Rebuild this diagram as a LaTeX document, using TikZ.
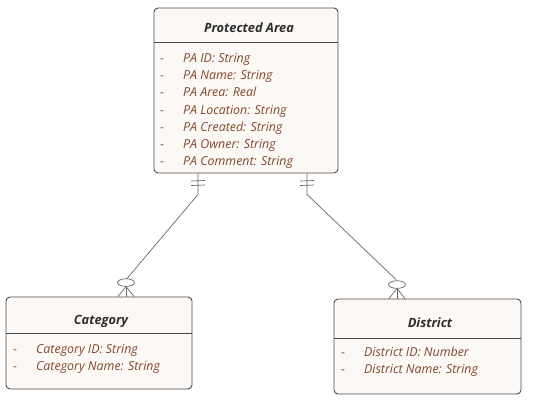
\documentclass[tikz,border=0pt]{standalone}
\usepackage{fontspec}
\setmainfont{Open Sans}
\usetikzlibrary{calc}
\definecolor{boxfill}{HTML}{FCF8F5}
\definecolor{boxline}{HTML}{4A4A4A}
\definecolor{attr}{HTML}{83462A}
\definecolor{ttl}{HTML}{2E2E2E}
\definecolor{conn}{HTML}{666666}
\tikzset{
  entity/.style={draw=boxline, fill=boxfill, line width=0.9pt, rounded corners=4pt, inner sep=0pt},
  title/.style={font=\fontsize{12.8}{15}\selectfont\bfseries\itshape, text=ttl, inner sep=0pt, anchor=base},
  attrtext/.style={font=\fontsize{12.4}{14}\selectfont\itshape, text=attr, anchor=base west, inner sep=0pt},
  dashtext/.style={font=\fontsize{12}{14}\selectfont, text=attr, anchor=base west, inner sep=0pt},
  sep/.style={draw=boxline, line width=0.8pt},
  rel/.style={draw=conn, line width=0.7pt},
}
\begin{document}
\begin{tikzpicture}[x=1pt,y=-1pt]
\useasboundingbox (0,0) rectangle (547,407);
% Protected Area
\node[entity, minimum width=184pt, minimum height=165pt] (pa) at (246,90.5) {};
\draw[sep] (154,42) -- (338,42);
\node[title] (pat) at (249,32.5) {Protected Area};
\foreach \t [count=\i] in {PA ID: String, PA Name: String, PA Area: Real, PA Location: String, PA Created: String, PA Owner: String, PA Comment: String}{
  \node[dashtext] (pad\i) at (160,{62.5+(\i-1)*17.2}) {-};
  \node[attrtext] (paa\i) at (183,{62.5+(\i-1)*17.2}) {\t};
}
% Category
\node[entity, minimum width=186pt, minimum height=92pt] (cat) at (99,343) {};
\draw[sep] (6,333) -- (192,333);
\node[title] (catt) at (101,324.5) {Category};
\node[dashtext] (catd1) at (13,353.5) {-};
\node[attrtext] (cata1) at (36,353.5) {Category ID: String};
\node[dashtext] (catd2) at (13,370.5) {-};
\node[attrtext] (cata2) at (36,370.5) {Category Name: String};
% District
\node[entity, minimum width=187pt, minimum height=95pt] (dist) at (427.5,346.5) {};
\draw[sep] (334,338) -- (521,338);
\node[title] (distt) at (430,327.5) {District};
\node[dashtext] (distd1) at (341,356.5) {-};
\node[attrtext] (dista1) at (364,356.5) {District ID: Number};
\node[dashtext] (distd2) at (341,373.5) {-};
\node[attrtext] (dista2) at (364,373.5) {District Name: String};
% Relationship PA - Category
\coordinate (r1a) at ([xshift=-48pt]pa.south);
\coordinate (r1b) at ([xshift=27pt]cat.north);
\draw[rel] (r1a) -- ++(0,21) coordinate (r1k) -- ($(r1b)+(1,-18)$);
\draw[rel] (191,181) -- (205,180.5);
\draw[rel] (191,185.5) -- (205,185);
\draw[rel] ($(r1b)+(0,-14)$) ellipse (8.5pt and 3.8pt);
\draw[rel] ($(r1b)+(0,-10)$) -- (r1b);
\draw[rel] ($(r1b)+(0,-10)$) -- ($(r1b)+(-8,0)$);
\draw[rel] ($(r1b)+(0,-10)$) -- ($(r1b)+(8,0)$);
% Relationship PA - District
\coordinate (r2a) at ([xshift=61pt]pa.south);
\coordinate (r2b) at ([xshift=-30.5pt]dist.north);
\draw[rel] (r2a) -- ++(0,21) coordinate (r2k) -- ($(r2b)+(-1,-19)$);
\draw[rel] (300,181) -- (314,180.5);
\draw[rel] (300,185.5) -- (314,185);
\draw[rel] ($(r2b)+(0,-14)$) ellipse (8.5pt and 3.8pt);
\draw[rel] ($(r2b)+(0,-10)$) -- (r2b);
\draw[rel] ($(r2b)+(0,-10)$) -- ($(r2b)+(-8,0)$);
\draw[rel] ($(r2b)+(0,-10)$) -- ($(r2b)+(8,0)$);
\end{tikzpicture}
\end{document}
